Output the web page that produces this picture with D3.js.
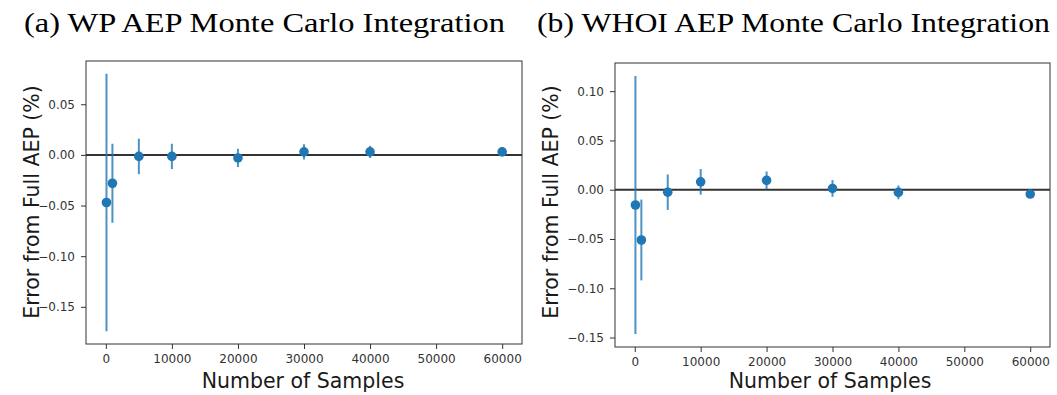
<!DOCTYPE html>
<html>
<head>
<meta charset="utf-8">
<script src="https://cdn.jsdelivr.net/npm/d3@7"></script>
<style>
  body { margin: 0; background: #fff; }
  svg text { font-family: "DejaVu Sans", sans-serif; }
</style>
</head>
<body>
<div id="plot"></div>
<script>
// number of samples used in the Monte Carlo integration
const samples = [100, 1000, 5000, 10000, 20000, 30000, 40000, 60000];

// (a) WP: mean error and error bar half-width (%)
const wpMean = [-0.047, -0.028, -0.0015, -0.0015, -0.003, 0.003, 0.003, 0.003];
const wpErr = [0.127, 0.039, 0.0175, 0.0125, 0.009, 0.0075, 0.006, 0.003];

// (b) WHOI
const whoiMean = [-0.0155, -0.051, -0.0025, 0.008, 0.0095, 0.0013, -0.0027, -0.0044];
const whoiErr = [0.131, 0.041, 0.018, 0.013, 0.009, 0.0085, 0.007, 0.003];

const xTicks = [0, 10000, 20000, 30000, 40000, 50000, 60000];
const wpTicks = [-0.15, -0.10, -0.05, 0.00, 0.05];
const whoiTicks = [-0.15, -0.10, -0.05, 0.00, 0.05, 0.10];

const titles = ["(a) WP AEP Monte Carlo Integration", "(b) WHOI AEP Monte Carlo Integration"];

const svg = d3.select("#plot")
    .append("svg")
    .attr("width", 1057)
    .attr("height", 395);

function drawPanel(opt) {
    const width = opt.right - opt.left,
        height = opt.bottom - opt.top;

    const g = svg.append("g")
        .attr("transform", `translate(${opt.left},${opt.top})`);

    const data = samples.map((s, i) => ({n: s, m: opt.mean[i], e: opt.err[i]}));

    // matplotlib style 5% margins
    const lo = d3.min(data, d => d.m - d.e), hi = d3.max(data, d => d.m + d.e);
    const pad = (hi - lo) * 0.05;

    const x = d3.scaleLinear()
        .domain([-3000, 63000])
        .range([0, width]);

    const y = d3.scaleLinear()
        .domain([lo - pad, hi + pad])
        .range([height, 0]);

    const xAxis = g.append("g")
        .attr("transform", `translate(0,${height})`)
        .call(d3.axisBottom(x).tickValues(xTicks).tickFormat(d3.format("d")).tickSize(5).tickPadding(5));

    const yAxis = g.append("g")
        .call(d3.axisLeft(y).tickValues(opt.ticks).tickFormat(d3.format(".2f")).tickSize(5).tickPadding(6));

    [xAxis, yAxis].forEach(a => {
        a.select(".domain").remove();
        a.selectAll("line").attr("stroke", "#333");
        a.selectAll("text")
            .attr("fill", "#333")
            .style("font-size", "12px");
    });

    // zero line
    g.append("line")
        .attr("x1", 0)
        .attr("x2", width)
        .attr("y1", y(0))
        .attr("y2", y(0))
        .attr("stroke", "#333")
        .attr("stroke-width", 2);

    g.selectAll(".err")
        .data(data)
        .enter().append("line")
        .attr("class", "err")
        .attr("x1", d => x(d.n))
        .attr("x2", d => x(d.n))
        .attr("y1", d => y(d.m - d.e))
        .attr("y2", d => y(d.m + d.e))
        .attr("stroke", "#1f77b4")
        .attr("stroke-opacity", 0.8)
        .attr("stroke-width", 2);

    g.selectAll(".pt")
        .data(data)
        .enter().append("circle")
        .attr("class", "pt")
        .attr("r", 4.8)
        .attr("cx", d => x(d.n))
        .attr("cy", d => y(d.m))
        .attr("fill", "#1f77b4");

    // frame
    g.append("rect")
        .attr("width", width)
        .attr("height", height)
        .attr("fill", "none")
        .attr("stroke", "#333")
        .attr("stroke-width", 1);

    svg.append("text")
        .attr("x", opt.xLabelX)
        .attr("y", 388)
        .attr("text-anchor", "middle")
        .style("font-size", "20.5px")
        .attr("fill", "#1a1a1a")
        .text("Number of Samples");

    svg.append("text")
        .attr("transform", `translate(${opt.yLabelX},202) rotate(-90)`)
        .attr("text-anchor", "middle")
        .style("font-size", "20.5px")
        .attr("fill", "#1a1a1a")
        .text("Error from Full AEP (%)");

    svg.append("text")
        .attr("x", opt.titleX)
        .attr("y", 32)
        .attr("textLength", opt.titleW)
        .attr("lengthAdjust", "spacingAndGlyphs")
        .style("font-family", "'Liberation Serif', serif")
        .style("font-size", "27px")
        .attr("fill", "#000")
        .text(opt.title);
}

drawPanel({left: 86, right: 522, top: 61, bottom: 344, mean: wpMean, err: wpErr, ticks: wpTicks,
    xLabelX: 303, yLabelX: 39, titleX: 24, titleW: 481, title: titles[0]});
drawPanel({left: 615, right: 1050, top: 63, bottom: 347, mean: whoiMean, err: whoiErr, ticks: whoiTicks,
    xLabelX: 830, yLabelX: 558, titleX: 537, titleW: 513, title: titles[1]});
</script>
</body>
</html>
